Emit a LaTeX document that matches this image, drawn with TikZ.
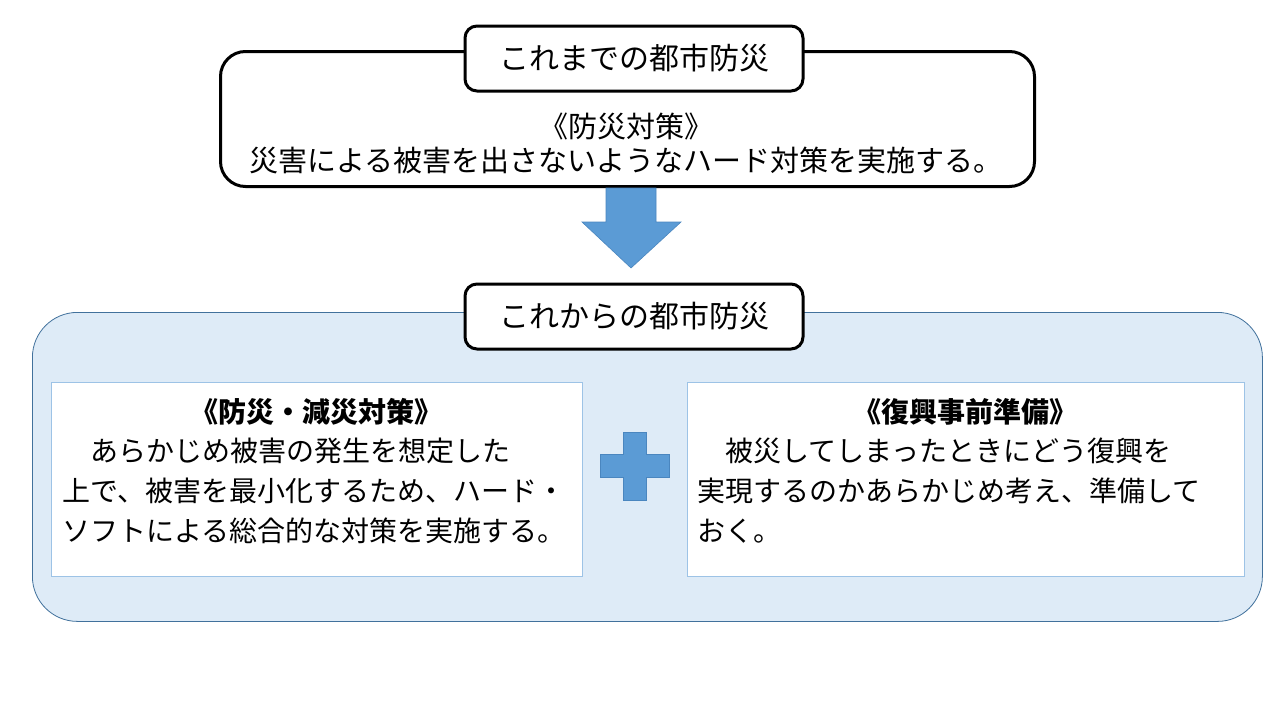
\documentclass[tikz,border=0pt]{standalone}
\usepackage{fontspec}
\setmainfont{Noto Sans CJK JP}
\definecolor{accblue}{HTML}{5B9BD5}
\definecolor{accedge}{HTML}{4A86BF}
\definecolor{paleblue}{HTML}{DEEBF7}
\definecolor{outeredge}{HTML}{41719C}
\definecolor{inneredge}{HTML}{9DC3E6}
\begin{document}
\begin{tikzpicture}[x=1pt,y=-1pt,
  bigbox/.style={draw=black, line width=3pt, rounded corners=25pt, fill=white, anchor=north west, inner sep=0pt},
  titlebox/.style={draw=black, line width=3pt, rounded corners=12pt, fill=white, minimum width=338pt, minimum height=65pt, inner sep=0pt, font=\fontsize{30}{34}\selectfont},
  groupbox/.style={draw=outeredge, line width=0.8pt, rounded corners=45pt, fill=paleblue, anchor=north west, inner sep=0pt},
  cardbox/.style={draw=inneredge, line width=0.8pt, fill=white, anchor=north west, inner sep=0pt},
  cardtitle/.style={font=\fontsize{28}{40}\selectfont\bfseries, inner sep=0pt},
  cardbody/.style={font=\fontsize{28}{40}\selectfont, align=left, anchor=north west, inner sep=0pt},
  shapefill/.style={fill=accblue, draw=accedge, line width=0.6pt}
]
\useasboundingbox (0,0) rectangle (1280,720);
\fill[white] (0,0) rectangle (1280,720);

% upper block
\node[bigbox, minimum width=814pt, minimum height=135pt] (oldbox) at (219,50) {};
\node[titlebox] (oldtitle) at (634,58.5) {これまでの都市防災};
\node[font=\fontsize{29}{34}\selectfont, align=center, inner sep=0pt] (oldtext) at (626,143)
  {《防災対策》\\災害による被害を出さないようなハード対策を実施する。};

% down arrow
\path (oldbox.south) ++(0,3) coordinate (arrtop);
\filldraw[shapefill] (606,188) -- (656,188) -- (656,222) -- (681,222) -- (631,268) -- (582,222) -- (606,222) -- cycle;

% lower block
\node[groupbox, minimum width=1230pt, minimum height=309pt] (newbox) at (32,312) {};
\node[titlebox] (newtitle) at (634,316.5) {これからの都市防災};

\node[cardbox, minimum width=531pt, minimum height=194pt] (leftcard) at (51,382) {};
\node[cardbox, minimum width=557pt, minimum height=194pt] (rightcard) at (687,382) {};

\node[cardtitle] (lefttitle) at (316.5,412) {《防災・減災対策》};
\node[cardbody] (leftbody) at (62,438)
  {\hspace*{1em}あらかじめ被害の発生を想定した\\上で、被害を最小化するため、ハード・\\ソフトによる総合的な対策を実施する。};

\node[cardtitle] (righttitle) at (965.5,412) {《復興事前準備》};
\node[cardbody] (rightbody) at (697,438)
  {\hspace*{1em}被災してしまったときにどう復興を\\実現するのかあらかじめ考え、準備して\\おく。};

% plus sign
\filldraw[shapefill] (623.5,432) -- (646.5,432) -- (646.5,454.5) -- (669,454.5) -- (669,477.5) -- (646.5,477.5) -- (646.5,500) -- (623.5,500) -- (623.5,477.5) -- (600,477.5) -- (600,454.5) -- (623.5,454.5) -- cycle;
\end{tikzpicture}
\end{document}
